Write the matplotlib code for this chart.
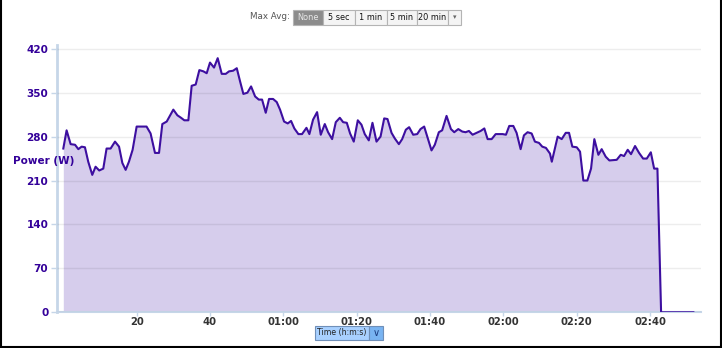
import matplotlib.pyplot as plt
from matplotlib.patches import Rectangle
from matplotlib.lines import Line2D

# power samples (time in minutes, power in watts)
minutes = [0.0, 0.9, 2.0, 3.2, 4.1, 5.0, 5.9, 6.8, 7.9, 8.8, 9.8, 10.9, 11.8, 12.9,
           14.1, 15.2, 16.1, 17.0, 17.9, 18.9, 20.0, 20.9, 22.7, 23.8, 25.0, 26.1,
           27.0, 28.2, 30.0, 31.1, 32.1, 33.0, 34.1, 35.0, 36.1, 37.1, 38.2, 39.1,
           40.0, 41.1, 42.1, 43.2, 44.3, 45.2, 46.3, 47.3, 48.2, 49.1, 50.2, 51.2,
           52.3, 53.3, 54.2, 55.2, 56.1, 57.2, 58.2, 59.1, 60.2, 61.2, 62.1, 63.0,
           64.1, 65.1, 66.3, 67.1, 68.1, 69.2, 70.2, 71.3, 72.2, 73.3, 74.3, 75.4,
           76.3, 77.3, 78.2, 79.2, 80.3, 81.3, 82.2, 83.3, 84.3, 85.4, 86.5, 87.5,
           88.4, 89.5, 90.4, 91.5, 92.4, 93.4, 94.3, 95.4, 96.5, 97.4, 98.4, 99.5,
           100.4, 101.3, 102.4, 103.3, 104.5, 105.7, 106.6, 107.7, 108.8, 109.7,
           110.6, 111.6, 112.7, 113.8, 114.8, 115.7, 116.8, 117.9, 118.9, 119.8,
           120.7, 121.6, 122.7, 123.6, 124.7, 125.6, 126.6, 127.7, 128.6, 129.7,
           130.6, 131.6, 132.7, 133.2, 134.8, 135.9, 137.0, 137.9, 138.8, 140.0,
           140.9, 141.8, 142.9, 143.9, 144.8, 145.9, 146.8, 147.9, 148.9, 150.9,
           152.0, 152.9, 153.9, 154.8, 155.9, 157.0, 158.1, 159.1, 160.2, 161.1,
           162.0, 163.0, 171.8]
power = [261, 290, 268, 267, 260, 264, 263, 240, 219, 232, 226, 229, 261, 261,
         272, 264, 238, 227, 240, 259, 296, 296, 296, 285, 254, 254,
         300, 304, 323, 314, 310, 306, 306, 361, 363, 386, 384, 381,
         398, 390, 405, 380, 380, 384, 385, 389, 368, 348, 350, 360,
         344, 339, 339, 318, 340, 340, 335, 323, 304, 301, 305, 293,
         284, 284, 294, 284, 307, 319, 283, 300, 287, 276, 303, 310,
         303, 302, 285, 272, 306, 299, 284, 274, 302, 272, 280, 309,
         308, 286, 277, 268, 276, 291, 295, 283, 284, 292, 296, 275,
         258, 267, 287, 290, 313, 292, 287, 292, 288, 287,
         289, 283, 286, 289, 293, 276, 276, 284, 284, 284,
         283, 297, 297, 286, 260, 282, 287, 285, 272, 270,
         264, 262, 253, 240, 280, 276, 286, 286, 264, 263,
         256, 210, 210, 229, 276, 251, 260, 248, 242, 243,
         251, 249, 259, 252, 265, 254, 245, 245, 255, 229,
         229, 0, 0]

x_ticks = [20, 40, 60, 80, 100, 120, 140, 160]
x_labels = ['20', '40', '01:00', '01:20', '01:40', '02:00', '02:20', '02:40']
y_ticks = [0, 70, 140, 210, 280, 350, 420]

buttons = ['None', '5 sec', '1 min', '5 min', '20 min']

W, H = 722, 348
fig = plt.figure(figsize=(W / 100, H / 100), dpi=100)
ax = fig.add_axes([56.7 / W, 1 - 312.3 / H, (700.7 - 56.7) / W, (312.3 - 45) / H])

ax.fill_between(minutes, power, 0, color='#d6cdec', linewidth=0, zorder=1)
ax.plot(minutes, power, color='#3d0fa0', linewidth=1.5, zorder=3)

ax.set_xlim(-1.8, 173.8)
ax.set_ylim(0, 426)
ax.set_yticks(y_ticks)
ax.set_xticks(x_ticks)
ax.set_xticklabels(x_labels)
ax.grid(True, axis='y', color='black', alpha=0.07, linewidth=1, zorder=2)
ax.set_axisbelow(False)

for side in ['top', 'right']:
    ax.spines[side].set_visible(False)
ax.spines['left'].set_color('#c6d6e8')
ax.spines['left'].set_linewidth(2)
ax.spines['bottom'].set_color('#c6d6e8')
ax.spines['bottom'].set_linewidth(1.5)

ax.tick_params(axis='y', colors='#c6d6e8', length=4, width=1, pad=2,
               labelcolor='#330099', labelsize=7.5)
ax.tick_params(axis='x', colors='#c6d6e8', length=3, width=1, pad=0.5,
               labelcolor='#333333', labelsize=7.2)
for lab in ax.get_yticklabels() + ax.get_xticklabels():
    lab.set_fontweight('bold')

fig.text(13 / W, 1 - 161 / H, 'Power (W)', color='#330099', fontsize=7.5,
         fontweight='bold', ha='left', va='center')

# "Max Avg" button bar at the top
fig.text(290 / W, 1 - 16.5 / H, 'Max Avg:', color='#555555', fontsize=6.3,
         ha='right', va='center')
edges = [293.3, 323.3, 355, 386.7, 416.7, 448.3]
for i, name in enumerate(buttons):
    x0, x1 = edges[i], edges[i + 1]
    face = '#8c8c8c' if i == 0 else '#f4f4f4'
    fig.add_artist(Rectangle((x0 / W, 1 - 25 / H), (x1 - x0) / W, 15 / H,
                             transform=fig.transFigure, facecolor=face,
                             edgecolor='#b4b4b4', linewidth=0.8))
    fig.text((x0 + x1) / 2 / W, 1 - 17.5 / H, name, fontsize=5.9,
             color='#e8e8e8' if i == 0 else '#111111', ha='center', va='center')
fig.add_artist(Rectangle((448.3 / W, 1 - 25 / H), 12.4 / W, 15 / H,
                         transform=fig.transFigure, facecolor='#f4f4f4',
                         edgecolor='#b4b4b4', linewidth=0.8))
fig.text(454.5 / W, 1 - 17 / H, '▾', fontsize=5, color='#666666', ha='center', va='center')

# time unit dropdown under the x axis
fig.add_artist(Rectangle((315 / W, 1 - 340 / H), 54.3 / W, 14 / H,
                         transform=fig.transFigure, facecolor='#a8d0ff',
                         edgecolor='#6f8fb8', linewidth=0.8))
fig.add_artist(Rectangle((369.3 / W, 1 - 340 / H), 14 / W, 14 / H,
                         transform=fig.transFigure, facecolor='#79b4f2',
                         edgecolor='#6f8fb8', linewidth=0.8))
fig.text(342 / W, 1 - 333 / H, 'Time (h:m:s)', fontsize=5.6, color='#222222',
         ha='center', va='center')
fig.text(376.3 / W, 1 - 333 / H, '∨', fontsize=7, color='#1a3d80',
         ha='center', va='center')

# screenshot frame
for xs, ys in [([0.5 / W, 0.5 / W], [0, 1]),
               ([1 - 1.5 / W, 1 - 1.5 / W], [0, 1]),
               ([0, 1], [1.5 / H, 1.5 / H])]:
    fig.add_artist(Line2D(xs, ys, color='black', linewidth=1.5,
                          transform=fig.transFigure))

fig.savefig('out.png', dpi=100)
